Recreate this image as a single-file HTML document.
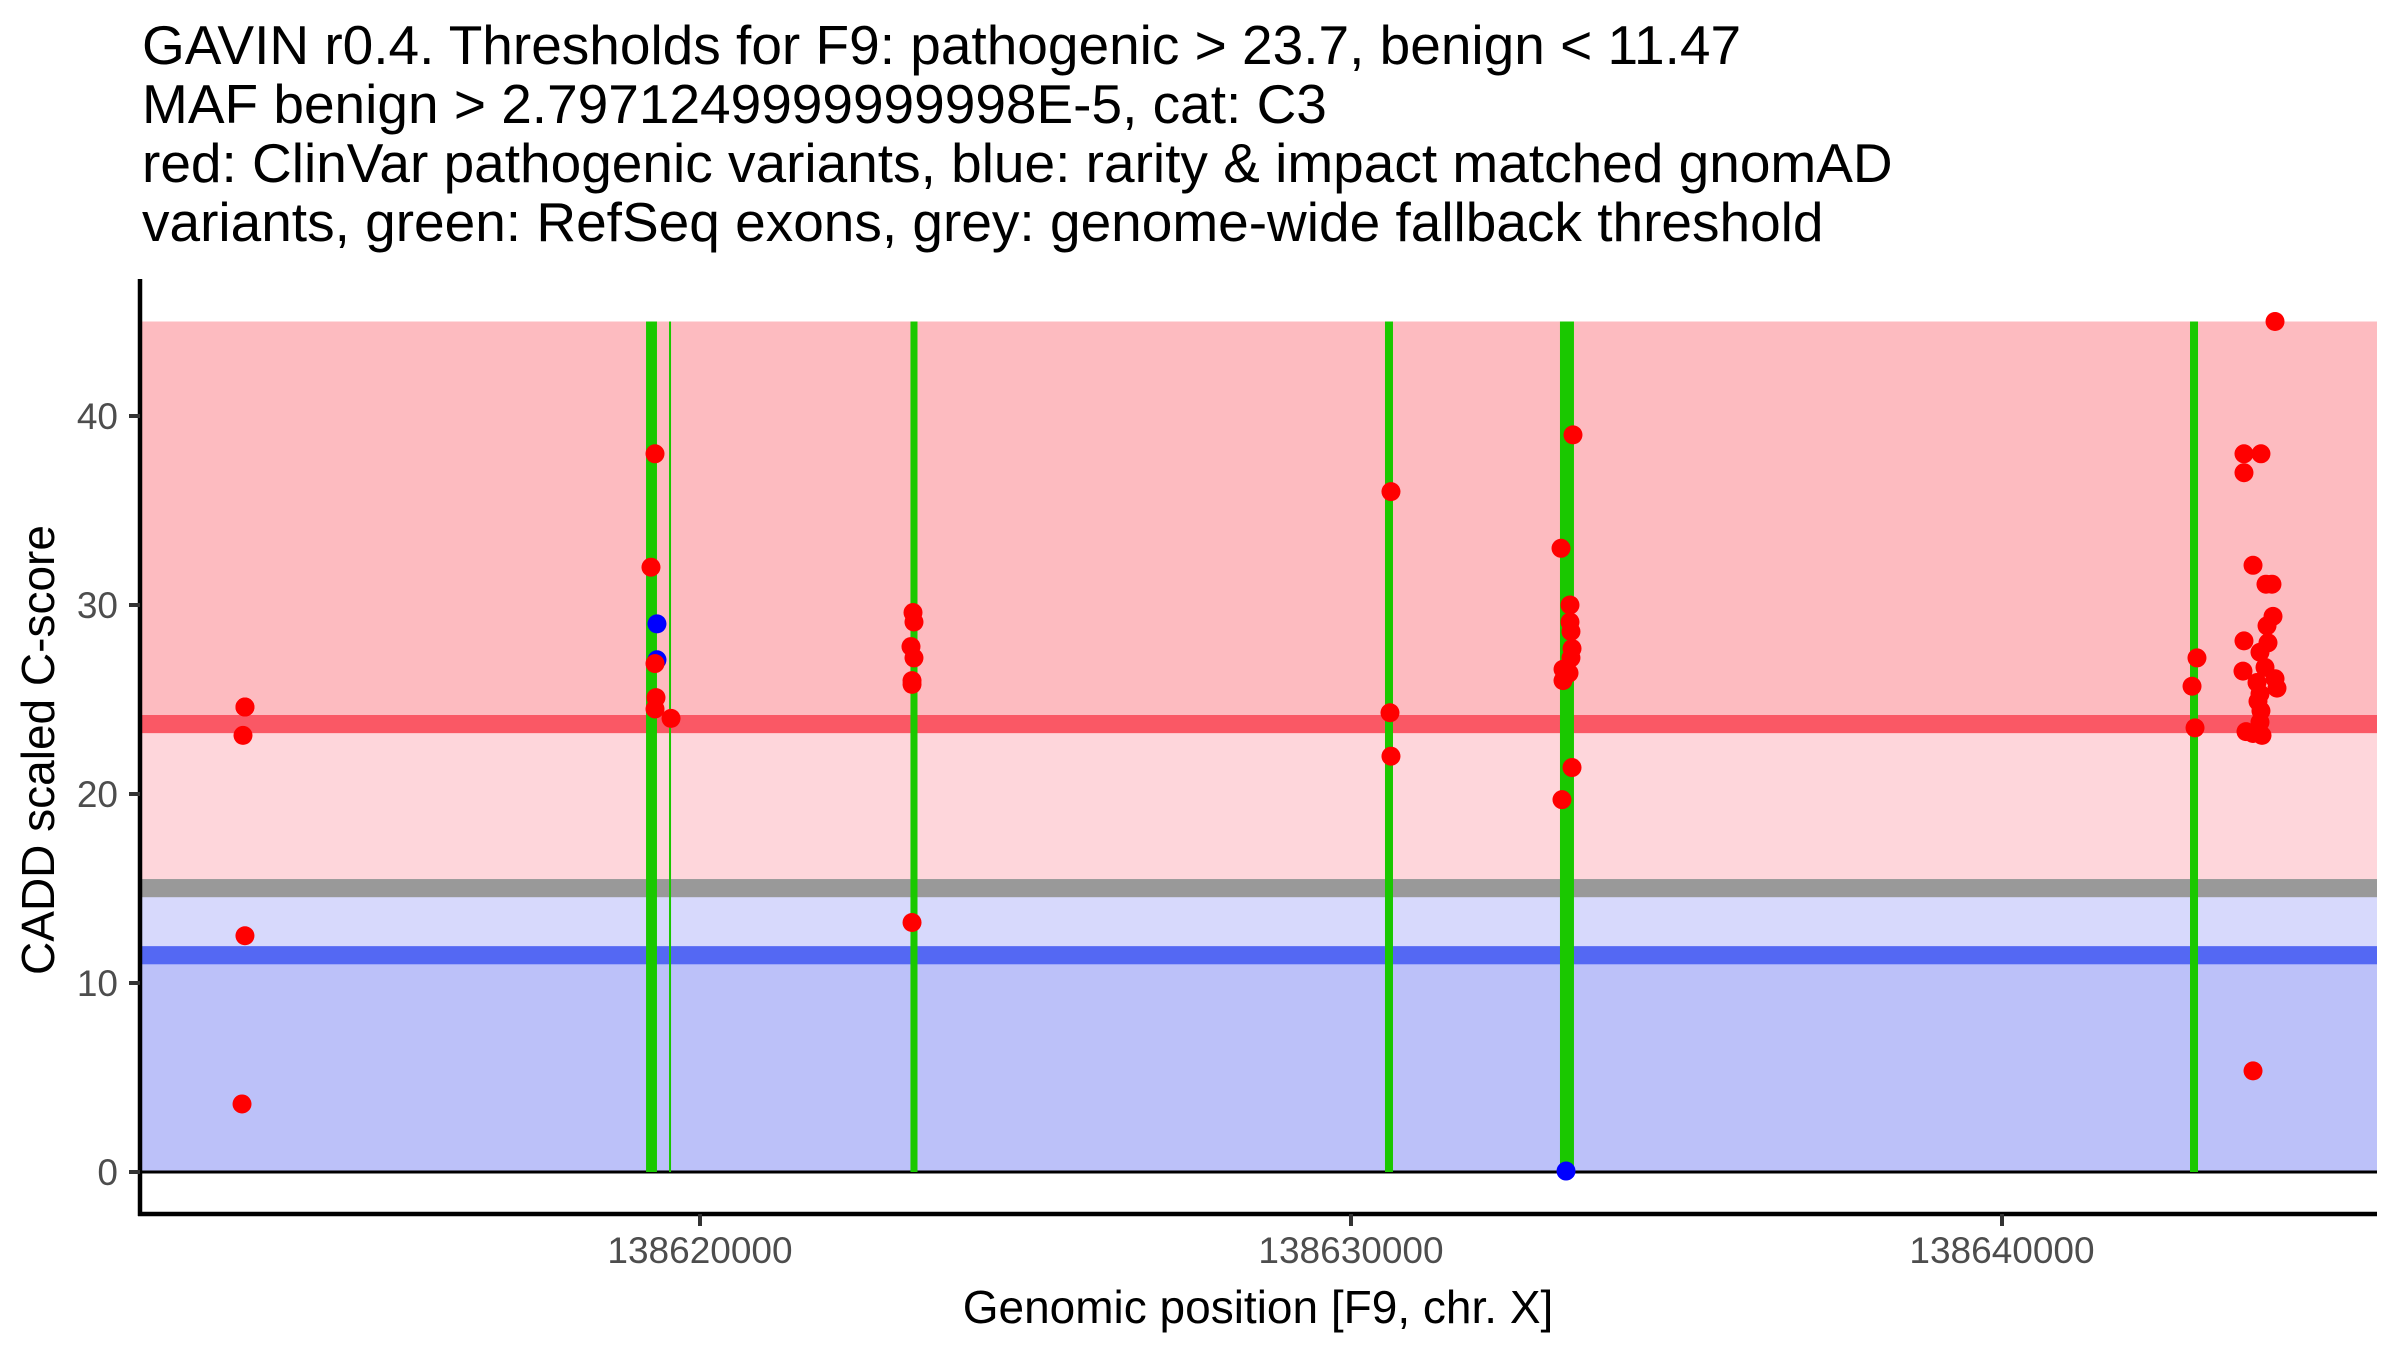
<!DOCTYPE html>
<html><head><meta charset="utf-8"><style>
html,body{margin:0;padding:0;background:#fff;}
svg{display:block;font-family:"Liberation Sans",Arial,sans-serif;}
</style></head><body>
<svg id="chart" width="2400" height="1350" viewBox="0 0 2400 1350" xmlns="http://www.w3.org/2000/svg">
<g font-size="55" fill="#000">
<text x="142" y="64">GAVIN r0.4. Thresholds for F9: pathogenic &gt; 23.7, benign &lt; 11.47</text>
<text x="142" y="123">MAF benign &gt; 2.7971249999999998E-5, cat: C3</text>
<text x="142" y="182">red: ClinVar pathogenic variants, blue: rarity &amp; impact matched gnomAD</text>
<text x="142" y="241">variants, green: RefSeq exons, grey: genome-wide fallback threshold</text>
</g>
<g id="bands"></g>
<g id="exons"></g>
<g id="points"></g>
<g id="axes"></g>
<text x="1258" y="1323" font-size="46" text-anchor="middle" fill="#000">Genomic position [F9, chr. X]</text>
<text transform="translate(54,750) rotate(-90)" font-size="46" text-anchor="middle" fill="#000">CADD scaled C-score</text>
</svg>
<script>
const xTicks = [138620000, 138630000, 138640000];
const yTicks = [0, 10, 20, 30, 40];
const pathogenicThreshold = 23.7;
const benignThreshold = 11.47;
const fallbackThreshold = 15.02;
const yMaxBand = 45;
const exonStarts = [138619171, 138619524, 138623233, 138630522, 138633210, 138642888];
const exonEnds   = [138619339, 138619555, 138623341, 138630645, 138633425, 138643011];
const redPos = [138613010,138613010,138612980,138613010,138612965,
 138619309,138619247,138619309,138619324,138619309,138619555,
 138623272,138623287,138623241,138623287,138623257,138623257,138623257,
 138630614,138630599,138630614,
 138633410,138633226,138633364,138633364,138633379,138633395,138633379,138633257,138633349,138633257,138633395,138633241,
 138642995,138642919,138642965,
 138644194,138643717,138643978,138643717,138643856,138644055,138644147,138644163,138644071,138643717,138644086,138643963,138643702,138644040,138644194,138644224,138643917,138643963,138643932,138643978,138643963,138643748,138643856,138643994,138643856];
const redScore = [24.6,24.6,23.1,12.5,3.6,
 38.0,32.0,26.9,25.1,24.5,24.0,
 29.6,29.1,27.8,27.2,26.0,25.8,13.2,
 36.0,24.3,22.0,
 39.0,33.0,30.0,29.1,28.6,27.7,27.2,26.6,26.4,26.0,21.4,19.7,
 27.2,25.7,23.5,
 45.0,38.0,38.0,37.0,32.1,31.1,31.1,29.4,28.9,28.1,28.0,27.5,26.5,26.7,26.1,25.6,25.9,25.3,24.9,24.4,23.8,23.3,23.2,23.1,5.35];
const bluePos = [138619339, 138619339, 138633303];
const blueScore = [29.0, 27.1, 0.05];

const NS='http://www.w3.org/2000/svg';
const xLeft=140, xRight=2377, x0px=700, pxPerBp=0.0651, xRef=138620000;
const y0px=1172, pxPerUnit=18.9;
function X(p){return x0px+(p-xRef)*pxPerBp;}
function Y(v){return y0px-v*pxPerUnit;}
function mk(tag,attrs,parent){const e=document.createElementNS(NS,tag);for(const k in attrs)e.setAttribute(k,attrs[k]);parent.appendChild(e);return e;}

const bands=document.getElementById('bands');
function band(top,bot,fill,name){
  const r=mk('rect',{x:xLeft,y:Y(top),width:xRight-xLeft,height:Y(bot)-Y(top),fill:fill},bands);
  
  
}
band(yMaxBand,pathogenicThreshold,'#FDBBC0','pathogenic-band');
band(pathogenicThreshold,fallbackThreshold,'#FED6DB','uncertain-pathogenic-band');
band(fallbackThreshold,benignThreshold,'#D7D9FC','uncertain-benign-band');
band(benignThreshold,0,'#BCC1F9','benign-band');
band(fallbackThreshold+0.48,fallbackThreshold-0.48,'#999999','fallback-threshold-line');
band(benignThreshold+0.48,benignThreshold-0.48,'#5468F3','benign-threshold-line');
band(pathogenicThreshold+0.48,pathogenicThreshold-0.48,'#FA5865','pathogenic-threshold-line');
const zl=mk('line',{x1:xLeft,x2:xRight,y1:Y(0),y2:Y(0),stroke:'#000','stroke-width':3},bands);



const ex=document.getElementById('exons');
for(let i=0;i<exonStarts.length;i++){
  const x1=X(exonStarts[i]), x2=X(exonEnds[i]);
  const r=mk('rect',{x:x1,y:Y(yMaxBand),width:Math.max(2,x2-x1),height:Y(0)-Y(yMaxBand),fill:'#1AC800'},ex);
  
  
}

const pts=document.getElementById('points');
for(let i=0;i<bluePos.length;i++){
  const c=mk('circle',{cx:X(bluePos[i]),cy:Y(blueScore[i]),r:9.5,fill:'#0000FF'},pts);
  
  
}
for(let i=0;i<redPos.length;i++){
  const c=mk('circle',{cx:X(redPos[i]),cy:Y(redScore[i]),r:9.5,fill:'#FF0000'},pts);
  
  
}

const ax=document.getElementById('axes');
const ya=mk('line',{x1:xLeft,x2:xLeft,y1:279,y2:1216,stroke:'#000','stroke-width':4.5},ax);


const xa=mk('line',{x1:xLeft-2,x2:xRight,y1:1214,y2:1214,stroke:'#000','stroke-width':4.5},ax);


yTicks.forEach(v=>{
  const t=mk('line',{x1:129,x2:xLeft,y1:Y(v),y2:Y(v),stroke:'#333','stroke-width':4},ax);
  
  
  const l=mk('text',{x:118,y:Y(v)+13,'font-size':37,'text-anchor':'end',fill:'#4d4d4d'},ax);
  l.textContent=v;
  
  
});
xTicks.forEach(p=>{
  const t=mk('line',{x1:X(p),x2:X(p),y1:1214,y2:1226,stroke:'#333','stroke-width':4},ax);
  
  
  const l=mk('text',{x:X(p),y:1263,'font-size':37,'text-anchor':'middle',fill:'#4d4d4d'},ax);
  l.textContent=p;
  
  
});
</script>
</body></html>
